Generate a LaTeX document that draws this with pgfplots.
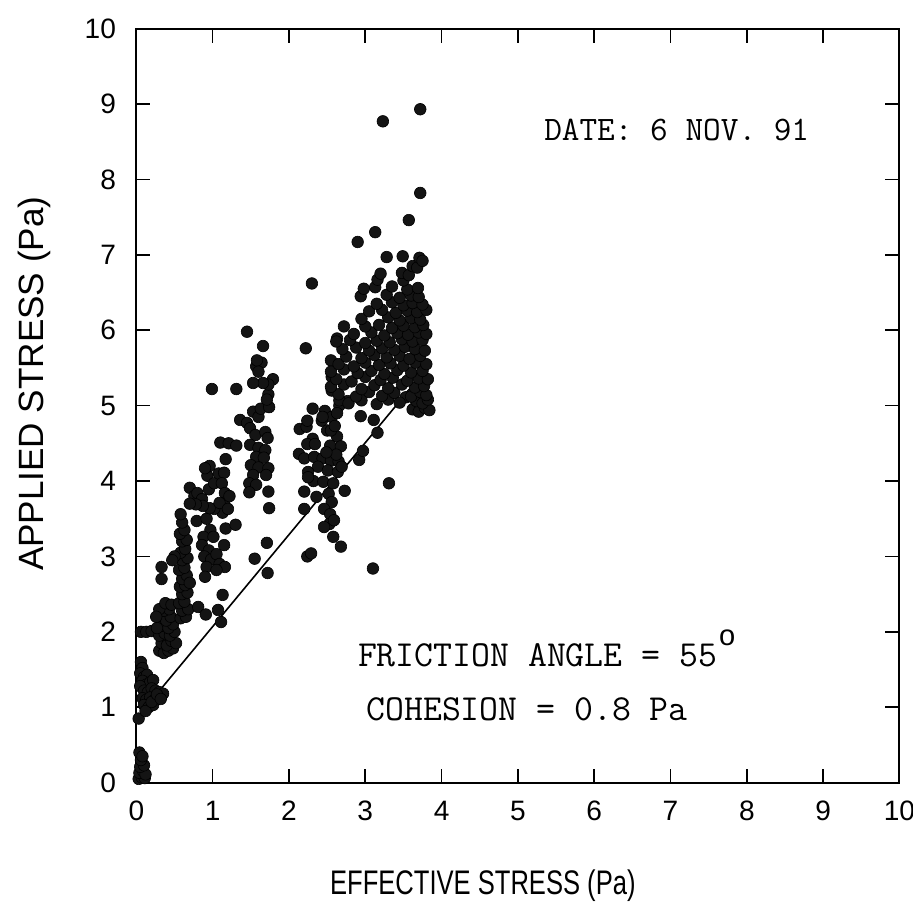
\documentclass[border=0pt]{standalone}
\usepackage{fontspec}
\setmainfont{Liberation Sans}
\usepackage{pgfplots}
\pgfplotsset{compat=1.18}
\usepackage{pgfplotstable}
\pgfplotstableread{
x y
0.03 0.05
0.07 0.07
0.11 0.06
0.04 0.13
0.09 0.15
0.12 0.11
0.05 0.21
0.10 0.23
0.06 0.30
0.04 0.40
0.08 0.35
0.03 0.85
0.06 1.60
0.08 1.52
0.05 1.45
0.10 1.40
0.14 1.43
0.08 1.35
0.13 1.30
0.18 1.33
0.22 1.36
0.05 1.28
0.10 1.22
0.15 1.20
0.20 1.25
0.25 1.22
0.30 1.20
0.35 1.18
0.08 1.12
0.13 1.10
0.18 1.13
0.24 1.10
0.28 1.13
0.10 1.03
0.16 1.00
0.22 1.03
0.12 0.95
0.20 1.07
0.27 1.17
0.32 1.11
0.06 2.00
0.13 2.00
0.20 2.01
0.30 1.75
0.36 1.72
0.42 1.75
0.48 1.78
0.33 1.85
0.40 1.82
0.46 1.88
0.52 1.85
0.30 1.95
0.37 1.98
0.44 1.95
0.50 2.00
0.34 2.08
0.42 2.05
0.48 2.10
0.32 2.18
0.39 2.15
0.45 2.20
0.36 2.28
0.43 2.30
0.30 2.30
0.38 2.38
0.46 2.36
0.27 2.05
0.26 2.20
0.33 2.70
0.33 2.86
0.58 2.18
0.65 2.20
0.60 2.28
0.68 2.30
0.56 2.38
0.63 2.40
0.60 2.50
0.67 2.52
0.57 2.60
0.64 2.62
0.60 2.70
0.66 2.75
0.56 2.82
0.63 2.85
0.60 2.95
0.67 2.98
0.58 3.05
0.64 3.10
0.60 3.20
0.66 3.22
0.57 3.30
0.63 3.35
0.60 3.45
0.58 3.56
0.50 3.00
0.47 2.95
0.70 2.65
0.81 2.33
0.91 2.23
1.13 2.49
1.07 2.29
1.11 2.13
0.79 3.47
0.92 3.50
0.97 3.35
0.88 3.26
1.01 3.26
0.86 3.15
0.95 3.08
0.89 3.00
0.98 2.96
1.05 3.03
1.09 2.90
1.16 2.86
0.92 2.86
1.05 2.82
0.90 2.73
1.15 3.15
1.17 3.37
1.30 3.42
0.70 3.91
0.76 3.80
0.80 3.84
0.86 3.76
0.95 3.89
0.93 4.07
0.96 4.20
0.90 4.17
1.02 3.97
1.08 4.10
1.15 4.11
1.12 3.97
1.16 3.84
1.15 3.71
1.13 3.58
1.02 3.63
0.96 3.64
0.87 3.67
0.78 3.69
0.70 3.70
1.09 3.71
1.20 3.63
1.22 3.80
1.10 4.51
1.21 4.50
1.31 4.47
1.17 4.29
0.99 5.22
1.31 5.22
1.36 4.81
1.45 4.77
1.53 4.92
1.60 4.85
1.49 4.70
1.56 4.61
1.69 4.65
1.72 4.57
1.49 4.48
1.60 4.44
1.69 4.41
1.57 4.32
1.67 4.31
1.50 4.21
1.60 4.18
1.73 4.17
1.53 4.08
1.70 4.08
1.48 3.97
1.57 3.95
1.48 3.85
1.73 3.86
1.74 3.64
1.63 4.96
1.74 4.98
1.73 5.15
1.79 5.35
1.73 5.28
1.66 5.30
1.53 5.30
1.57 5.52
1.64 5.57
1.58 5.60
1.45 5.98
1.66 5.79
1.60 5.45
1.71 5.08
1.72 2.78
1.55 2.97
1.71 3.18
2.31 4.96
2.47 4.93
2.66 5.00
2.56 4.85
2.43 4.80
2.14 4.69
2.23 4.72
2.31 4.56
2.24 4.49
2.50 4.67
2.63 4.59
2.54 4.47
2.68 4.46
2.13 4.36
2.20 4.30
2.33 4.32
2.44 4.30
2.55 4.27
2.65 4.26
2.38 4.19
2.51 4.14
2.64 4.12
2.25 4.12
2.32 4.00
2.45 3.99
2.58 3.97
2.20 3.86
2.36 3.79
2.52 3.83
2.56 3.72
2.20 3.63
2.46 3.63
2.54 3.56
2.53 3.43
2.59 3.48
2.46 3.39
2.58 3.26
2.68 3.13
2.73 3.87
2.69 4.19
2.92 4.28
2.97 4.40
3.16 4.64
3.11 4.81
2.94 4.86
2.77 5.06
2.24 3.00
2.29 3.04
3.10 2.84
3.31 3.97
3.67 5.05
3.74 5.14
3.70 5.27
3.61 5.15
3.53 5.11
2.25 4.05
2.34 4.49
2.44 4.85
2.55 4.67
2.63 4.90
2.56 5.20
2.66 5.07
2.24 4.80
2.60 4.73
2.62 4.35
2.49 4.38
2.72 6.05
2.63 5.89
2.22 5.76
2.30 6.62
2.90 7.17
3.13 7.30
3.57 7.46
3.72 7.82
3.23 8.77
3.72 8.93
2.55 5.60
2.56 5.38
3.62 4.95
3.70 4.92
3.78 4.97
3.84 4.94
2.78 5.03
2.95 5.07
3.15 5.02
3.30 5.08
3.45 5.04
3.67 5.06
3.75 5.03
3.82 5.08
2.65 5.15
2.88 5.12
3.05 5.18
3.22 5.13
3.38 5.17
3.60 5.12
3.72 5.18
3.80 5.14
2.55 5.25
2.72 5.28
2.95 5.22
3.12 5.27
3.30 5.23
3.48 5.28
3.65 5.24
3.77 5.26
2.62 5.35
2.82 5.32
3.00 5.38
3.20 5.34
3.36 5.37
3.55 5.33
3.70 5.36
3.82 5.35
2.55 5.45
2.72 5.48
2.90 5.43
3.08 5.46
3.25 5.42
3.42 5.47
3.60 5.44
3.75 5.46
2.65 5.55
2.85 5.52
3.00 5.57
3.18 5.54
3.33 5.56
3.50 5.53
3.66 5.57
3.80 5.55
2.75 5.65
2.95 5.63
3.12 5.67
3.28 5.64
3.45 5.66
3.58 5.62
3.72 5.66
2.70 5.75
2.88 5.77
3.05 5.73
3.22 5.76
3.38 5.74
3.52 5.78
3.65 5.75
3.78 5.73
2.62 5.85
2.80 5.87
3.00 5.83
3.15 5.86
3.32 5.84
3.48 5.88
3.62 5.85
3.75 5.87
2.85 5.95
3.08 5.97
3.25 5.93
3.42 5.96
3.56 5.94
3.70 5.97
3.80 5.95
3.00 6.05
3.18 6.07
3.35 6.03
3.50 6.06
3.65 6.04
3.76 6.07
2.95 6.15
3.30 6.17
3.45 6.13
3.60 6.16
3.72 6.14
3.05 6.25
3.22 6.27
3.40 6.23
3.55 6.26
3.68 6.24
3.80 6.27
3.15 6.35
3.35 6.37
3.50 6.33
3.62 6.36
3.75 6.34
2.94 6.45
3.28 6.47
3.45 6.43
3.60 6.46
3.70 6.44
2.98 6.55
3.13 6.57
3.35 6.58
3.55 6.54
3.69 6.56
3.16 6.67
3.50 6.66
3.20 6.75
3.48 6.76
3.57 6.73
3.62 6.85
3.68 6.83
3.28 6.97
3.49 6.98
3.71 6.96
3.75 6.92
}\pts
\begin{document}
\begin{tikzpicture}
\begin{axis}[
  scale only axis, width=380.5pt, height=376pt,
  xmin=0, xmax=10, ymin=0, ymax=10,
  xtick={0,1,...,10}, ytick={0,1,...,10},
  tick align=inside, major tick length=7pt,
  axis line style={line width=1pt},
  every tick/.style={black, line width=0.8pt},
  /pgf/number format/assume math mode=true,
  ticklabel style={font=\fontsize{14}{16}\selectfont},
  xticklabel style={inner sep=0pt, yshift=-9pt},
  yticklabel style={inner sep=0pt, xshift=-10pt},
  clip=false,
]
\addplot[only marks, mark=*, mark size=2.9pt, mark options={fill=black!92, draw=black, line width=0.3pt}] table[x=x, y=y] {\pts};
\addplot[black, line width=0.8pt] coordinates {(0,0.85) (3.6,5.24)};
\node[anchor=center, font=\fontsize{17}{20}\selectfont] at (axis cs:4.54,-1.36) {\scalebox{0.75}[1]{EFFECTIVE STRESS (Pa)}};
\node[anchor=center, rotate=90, font=\fontsize{17.5}{20}\selectfont] at (axis cs:-1.34,5.29) {APPLIED STRESS (Pa)};
\node[anchor=base west, inner sep=0pt, font=\ttfamily\fontsize{17.1}{20}\selectfont] at (axis cs:5.34,8.51) {DATE: 6 NOV. 91};
\node[anchor=base west, inner sep=0pt, font=\ttfamily\fontsize{18.3}{20}\selectfont] at (axis cs:2.9,1.54) {FRICTION ANGLE = 55\hspace{1pt}\raisebox{10.5pt}{\fontspec{Liberation Sans}\fontsize{14.5}{15}\selectfont o}};
\node[anchor=base west, inner sep=0pt, font=\ttfamily\fontsize{18.3}{20}\selectfont] at (axis cs:3.01,0.82) {COHESION = 0.8 Pa};
\end{axis}
\pgfresetboundingbox
\path (-68pt,-60.5pt) rectangle (387.25pt,390.25pt);
\end{tikzpicture}
\end{document}
